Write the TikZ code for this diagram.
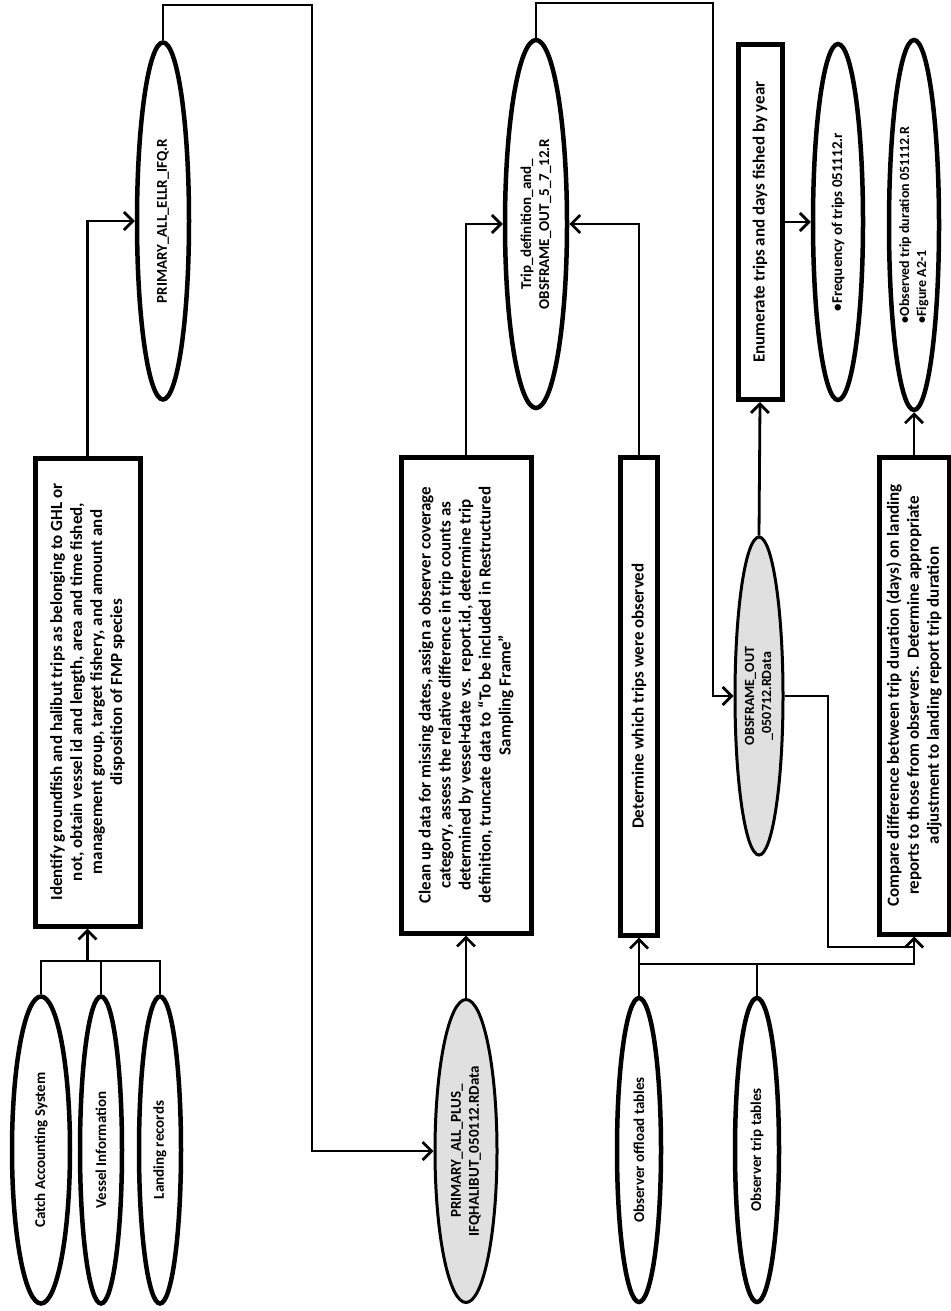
\documentclass[tikz,border=0pt]{standalone}
\usepackage{fontspec}
\setmainfont{Carlito}
\usetikzlibrary{shapes.geometric,arrows.meta}

\tikzset{
  stepbox/.style={draw, line width=5pt, rotate=90, align=center, inner sep=2pt,
    font=\bfseries\fontsize{17}{20}\selectfont},
  blob/.style={ellipse, draw, line width=4.5pt, rotate=90, align=center, inner sep=0pt,
    font=\bfseries\fontsize{15}{18}\selectfont},
  rdata/.style={blob, fill=black!12, line width=3pt},
  flow/.style={line width=2.8pt, -{Straight Barb[length=9pt,width=18pt]}},
  link/.style={line width=2.8pt},
}

\begin{document}
\begin{tikzpicture}[x=1pt, y=-1pt]
    \useasboundingbox (0,0) rectangle (950,1311);

    % sources
    \node[blob, minimum width=307, minimum height=58] (cas) at (41,1150) {Catch Accounting System};
    \node[blob, minimum width=307, minimum height=42] (vessel) at (101,1150) {Vessel Information};
    \node[blob, minimum width=307, minimum height=42] (landing) at (160,1150) {Landing records};
    \node[stepbox, minimum width=468, minimum height=105] (identify) at (87.5,692)
        {Identify groundfish and halibut trips as belonging to GHL or\\
         not, obtain vessel id and length, area and time fished,\\
         management group, target fishery, and amount and\\
         disposition of FMP species};
    \node[blob, minimum width=357, minimum height=52] (ellr) at (163,221) {PRIMARY\_ALL\_ELLR\_IFQ.R};

    % trip frame
    \node[rdata, minimum width=303, minimum height=62] (plus) at (466,1151)
        {PRIMARY\_ALL\_PLUS\_\\IFQHALIBUT\_050112.RData};
    \node[stepbox, minimum width=476, minimum height=130] (cleanup) at (466,695)
        {Clean up data for missing dates, assign a observer coverage\\
         category, assess the relative difference in trip counts as\\
         determined by vessel+date vs. report.id, determine trip\\
         definition, truncate data to ``To be included in Restructured\\
         Sampling Frame''};
    \node[blob, minimum width=368, minimum height=62] (tripdef) at (536,224)
        {Trip\_definition\_and\_\\OBSFRAME\_OUT\_5\_7\_12.R};
    \node[stepbox, minimum width=478, minimum height=37] (determine) at (639,696)
        {Determine which trips were observed};
    \node[blob, minimum width=304, minimum height=44] (offload) at (639,1150) {Observer offload tables};
    \node[blob, minimum width=304, minimum height=44] (triptab) at (757,1150) {Observer trip tables};

    % outputs
    \node[rdata, minimum width=318, minimum height=48, font=\bfseries\fontsize{14}{17}\selectfont]
        (obsframe) at (759,696) {OBSFRAME\_OUT\\\_050712.RData};
    \node[stepbox, minimum width=355, minimum height=44] (enumerate) at (760,222)
        {Enumerate trips and days fished by year};
    \node[blob, minimum width=356, minimum height=50] (freq) at (838,222)
        {\textbullet Frequency of trips 051112.r};
    \node[stepbox, minimum width=477, minimum height=70] (compare) at (914,695.5)
        {Compare difference between trip duration (days) on landing\\
         reports to those from observers.\ \ Determine appropriate\\
         adjustment to landing report trip duration};
    \node[blob, minimum width=370, minimum height=50, align=left, font=\bfseries\fontsize{14}{17}\selectfont]
        (observed) at (914,225) {\textbullet Observed trip duration 051112.R\\\textbullet Figure A2-1};

    \coordinate (srcbar) at (87.5,961);
    \coordinate (ltop) at (312,5);
    \coordinate (obsbar) at (639,964);
    \coordinate (mtop) at (713,3);
    \coordinate (obsturn) at (828,947);

    \draw[link] (cas.east) -- (cas.east |- srcbar) -- (landing.east |- srcbar) -- (landing.east);
    \draw[link] (vessel.east) -- (vessel.east |- srcbar);
    \draw[flow] (srcbar) -- (identify.west);
    \draw[flow] (identify.east) |- (ellr.north);
    \draw[flow] (ellr.east) |- (ltop) |- (plus.north);

    \draw[flow] (plus.east) -- (cleanup.west);
    \draw[flow] (cleanup.east) |- (tripdef.north);
    \draw[flow] (determine.east) |- (tripdef.south);
    \draw[flow] (offload.east) -- (determine.west);
    \draw[link] (triptab.east) -- (triptab.east |- obsbar);
    \draw[flow] (obsbar) -| (compare.west);

    \draw[flow] (tripdef.east) |- (mtop) |- (obsframe.north);
    \draw[flow] (obsframe.east) -- (enumerate.west);
    \draw[flow] (enumerate.south) -- (freq.north);
    \draw[link] (obsframe.south) -| (obsturn) -- (obsturn -| compare.west);
    \draw[flow] (compare.east) -- (observed.west);
\end{tikzpicture}
\end{document}
